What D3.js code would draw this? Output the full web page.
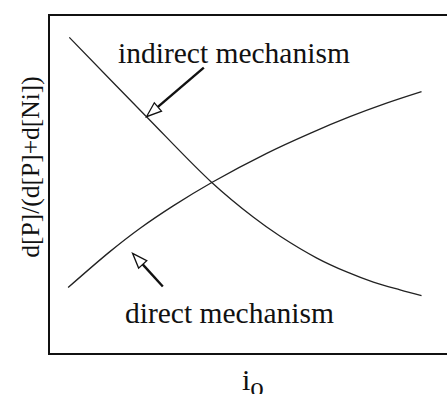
<!DOCTYPE html>
<html lang="en">
<head>
    <meta charset="UTF-8">
    <title>mechanism plot</title>
    <script src="https://cdn.jsdelivr.net/npm/d3@7"></script>
    <style>
        body{
            margin: 0;
            background: #ffffff;
        }
        text{
            font-family: "Liberation Serif", "DejaVu Serif", serif;
            fill: #111;
        }
    </style>
</head>
<body>
<svg width="447" height="394" id="main"></svg>

<script>
    // curve values (arbitrary units)
    let indirect_x = [0.51, 2.45, 4.09, 5.13, 5.80, 6.73, 7.48, 8.15, 8.82, 9.36];
    let indirect_y = [9.34, 7.00, 5.06, 4.04, 3.48, 2.83, 2.42, 2.12, 1.89, 1.72];
    let direct_x = [0.48, 1.53, 2.29, 3.12, 4.09, 5.47, 6.56, 7.56, 8.48, 9.36];
    let direct_y = [1.96, 3.02, 3.71, 4.37, 5.06, 5.92, 6.51, 7.00, 7.40, 7.74];

    // arrows: [tail x, tail y, tip x, tip y]
    let indirect_arrow = [3.89, 8.45, 2.45, 7.00];
    let direct_arrow = [2.86, 1.99, 2.10, 2.97];

    let labels = ["indirect mechanism", "direct mechanism"];
    let yLabel = "d[P]/(d[P]+d[Ni])";

    let svg = d3.select("#main");

    let x = d3.scaleLinear().domain([0, 10]).range([49, 447]);
    let y = d3.scaleLinear().domain([0, 10]).range([354, 15]);

    // frame (right side cut off)
    svg.append("path")
        .attr("d", "M" + x(10.1) + "," + y(10) + "H" + x(0) + "V" + y(0) + "H" + x(10.1))
        .attr("fill", "none")
        .attr("stroke", "#111")
        .attr("stroke-width", 2);

    let line = d3.line()
        .x(d => x(d[0]))
        .y(d => y(d[1]))
        .curve(d3.curveCatmullRom.alpha(0.5));

    function drawCurve(xs, ys){
        svg.append("path")
            .attr("d", line(d3.zip(xs, ys)))
            .attr("fill", "none")
            .attr("stroke", "#222")
            .attr("stroke-width", 1.3);
    }
    drawCurve(indirect_x, indirect_y);
    drawCurve(direct_x, direct_y);

    function drawArrow(a){
        let x0 = x(a[0]), y0 = y(a[1]), x1 = x(a[2]), y1 = y(a[3]);
        let len = Math.hypot(x1 - x0, y1 - y0);
        let ux = (x1 - x0) / len, uy = (y1 - y0) / len;
        let hl = 15, hw = 5.5;
        let bx = x1 - ux * hl, by = y1 - uy * hl;
        svg.append("line")
            .attr("x1", x0).attr("y1", y0)
            .attr("x2", bx).attr("y2", by)
            .attr("stroke", "#111")
            .attr("stroke-width", 2.4);
        svg.append("polygon")
            .attr("points", [
                [x1, y1],
                [bx - uy * hw, by + ux * hw],
                [bx + uy * hw, by - ux * hw]
            ].join(" "))
            .attr("fill", "#fff")
            .attr("stroke", "#111")
            .attr("stroke-width", 1.3)
            .attr("stroke-linejoin", "miter");
    }
    drawArrow(indirect_arrow);
    drawArrow(direct_arrow);

    svg.append("text")
        .attr("x", 118).attr("y", 63)
        .attr("font-size", 29.5)
        .text(labels[0]);
    svg.append("text")
        .attr("x", 125).attr("y", 323)
        .attr("font-size", 29.5)
        .text(labels[1]);

    // y axis label
    svg.append("text")
        .attr("transform", "translate(39,167) rotate(-90)")
        .attr("text-anchor", "middle")
        .attr("font-size", 25.5)
        .text(yLabel);

    // x axis label (cut by the bottom edge, as in the picture)
    let xl = svg.append("text")
        .attr("x", 242).attr("y", 390)
        .attr("font-size", 30);
    xl.append("tspan").text("i");
    xl.append("tspan").attr("dy", 6).attr("font-size", 27).text("o");
</script>
</body>
</html>
